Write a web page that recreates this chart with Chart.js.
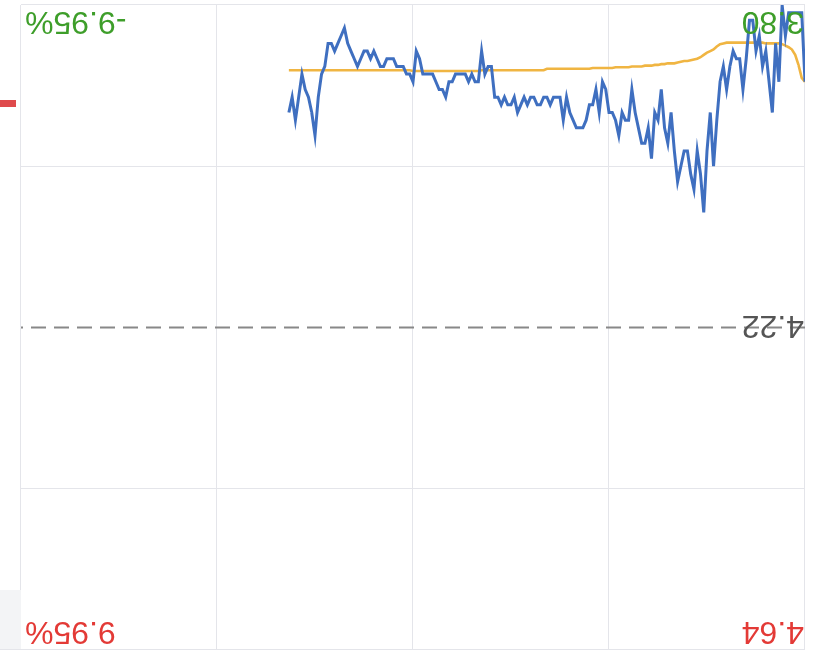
<!DOCTYPE html>
<html>
<head>
<meta charset="utf-8">
<script src="https://cdn.jsdelivr.net/npm/chart.js@4.4.1/dist/chart.umd.min.js"></script>
<style>
  html, body { margin: 0; padding: 0; background: #fff; }
  #wrap { position: relative; width: 822px; height: 663px; transform: rotate(180deg); overflow: hidden; }
  #grafico { position: absolute; left: 0; top: 0; }
  .tira { position: absolute; }
</style>
</head>
<body>
<div id="wrap">
  <canvas id="grafico" width="822" height="663"></canvas>
  <div class="tira" style="left:801px; top:13px; width:21px; height:60px; background:#f3f4f6;"></div>
  <div class="tira" style="left:801px; top:13px; width:21px; height:1px; background:#e4e5ea;"></div>
  <div class="tira" style="left:806px; top:556px; width:16px; height:7px; background:#df4a4c;"></div>
</div>
<script>
// precio por minuto (indice 0 = 09:30)
var precio = [
    3.90, 3.81, 3.81, 3.81, 3.81, 3.81, 3.84, 3.80, 3.90, 3.85,
    3.94, 3.90, 3.86, 3.88, 3.84, 3.86, 3.82, 3.82, 3.87, 3.91,
    3.87, 3.87, 3.86, 3.88, 3.91, 3.88, 3.90, 3.95, 4.01, 3.94,
    3.99, 4.07, 4.02, 3.99, 4.04, 4.02, 3.99, 3.99, 4.01, 4.03,
    3.99, 3.94, 3.98, 3.96, 3.91, 3.95, 3.94, 4.00, 3.96, 3.98,
    3.98, 3.96, 3.94, 3.91, 3.95, 3.95, 3.94, 3.97, 3.95, 3.94,
    3.94, 3.91, 3.90, 3.94, 3.91, 3.93, 3.93, 3.95, 3.96, 3.96,
    3.96, 3.95, 3.94, 3.92, 3.95, 3.92, 3.92, 3.92, 3.93, 3.92,
    3.92, 3.93, 3.93, 3.92, 3.92, 3.93, 3.92, 3.93, 3.94, 3.92,
    3.93, 3.93, 3.92, 3.93, 3.92, 3.92, 3.88, 3.88, 3.89, 3.86,
    3.90, 3.90, 3.89, 3.90, 3.89, 3.89, 3.89, 3.89, 3.90, 3.90,
    3.92, 3.91, 3.91, 3.90, 3.89, 3.89, 3.89, 3.89, 3.87, 3.86,
    3.90, 3.89, 3.89, 3.88, 3.88, 3.88, 3.87, 3.87, 3.87, 3.88,
    3.88, 3.87, 3.86, 3.87, 3.86, 3.86, 3.87, 3.88, 3.87, 3.86,
    3.85, 3.83, 3.84, 3.85, 3.86, 3.85, 3.85, 3.88, 3.89, 3.92,
    3.97, 3.94, 3.92, 3.91, 3.89, 3.92, 3.95, 3.92, 3.94
];
// precio medio
var promedio = [
    3.900, 3.895, 3.878, 3.865, 3.858, 3.855, 3.853, 3.851, 3.850, 3.850,
    3.850, 3.850, 3.850, 3.849, 3.849, 3.849, 3.849, 3.849, 3.849, 3.849,
    3.849, 3.849, 3.849, 3.849, 3.849, 3.850, 3.851, 3.854, 3.858, 3.860,
    3.862, 3.865, 3.868, 3.870, 3.871, 3.872, 3.873, 3.873, 3.874, 3.875,
    3.876, 3.876, 3.876, 3.877, 3.877, 3.878, 3.878, 3.879, 3.879, 3.879,
    3.880, 3.880, 3.880, 3.880, 3.881, 3.881, 3.881, 3.881, 3.881, 3.882,
    3.882, 3.882, 3.882, 3.882, 3.882, 3.882, 3.883, 3.883, 3.883, 3.883,
    3.883, 3.883, 3.883, 3.883, 3.883, 3.883, 3.883, 3.883, 3.883, 3.883,
    3.885, 3.885, 3.885, 3.885, 3.885, 3.885, 3.885, 3.885, 3.885, 3.885,
    3.885, 3.885, 3.885, 3.885, 3.885, 3.885, 3.885, 3.885, 3.885, 3.885,
    3.886, 3.886, 3.886, 3.886, 3.886, 3.886, 3.886, 3.886, 3.886, 3.886,
    3.886, 3.886, 3.886, 3.886, 3.886, 3.886, 3.886, 3.886, 3.886, 3.886,
    3.886, 3.885, 3.885, 3.885, 3.885, 3.885, 3.885, 3.885, 3.885, 3.885,
    3.885, 3.885, 3.885, 3.885, 3.885, 3.885, 3.885, 3.885, 3.885, 3.885,
    3.885, 3.885, 3.885, 3.885, 3.885, 3.885, 3.885, 3.885, 3.885, 3.885,
    3.885, 3.885, 3.885, 3.885, 3.885, 3.885, 3.885, 3.885, 3.885
];
var cierreAnterior = 4.22;
var ticksY = [3.80, 4.01, 4.22, 4.43, 4.64];
var ticksX = [0, 60, 120, 180, 240];
var etiquetas = {
    maximo: '4.64', subida: '9.95%',
    medio: '4.22',
    minimo: '3.80', bajada: '-9.95%'
};

var colorRejilla = '#e4e5ea';

function puntos(datos) {
    return datos.map(function (v, i) { return { x: i, y: v }; });
}

var textos = {
    id: 'textos',
    afterDraw: function (chart) {
        var ctx = chart.ctx;
        var area = chart.chartArea;
        var y = chart.scales.y;
        ctx.save();
        ctx.font = "32px 'Liberation Sans', Arial, sans-serif";
        ctx.textBaseline = 'alphabetic';
        ctx.fillStyle = '#e33a36';
        ctx.textAlign = 'left';
        ctx.fillText(etiquetas.maximo, area.left + 1, y.getPixelForValue(ticksY[4]) + 28);
        ctx.textAlign = 'right';
        ctx.fillText(etiquetas.subida, area.right - 4, y.getPixelForValue(ticksY[4]) + 28);
        ctx.fillStyle = '#555555';
        ctx.textAlign = 'left';
        ctx.fillText(etiquetas.medio, area.left + 1, y.getPixelForValue(cierreAnterior) + 11);
        ctx.fillStyle = '#3e9e2a';
        ctx.fillText(etiquetas.minimo, area.left + 1, y.getPixelForValue(ticksY[0]) - 7);
        ctx.textAlign = 'right';
        ctx.fillText(etiquetas.bajada, area.right - 4, y.getPixelForValue(ticksY[0]) - 7);
        ctx.restore();
    }
};

var ctx = document.getElementById('grafico').getContext('2d');
var grafico = new Chart(ctx, {
    type: 'line',
    data: {
        datasets: [{
            label: 'precio',
            data: puntos(precio),
            borderColor: '#3f6fc0',
            borderWidth: 3,
            pointRadius: 0,
            tension: 0,
            order: 1
        }, {
            label: 'promedio',
            data: puntos(promedio),
            borderColor: '#f0b542',
            borderWidth: 2.6,
            pointRadius: 0,
            tension: 0,
            order: 2
        }, {
            label: 'cierre',
            data: [{ x: ticksX[0], y: cierreAnterior }, { x: ticksX[4], y: cierreAnterior }],
            borderColor: '#888888',
            borderWidth: 2,
            borderDash: [15, 8],
            pointRadius: 0,
            order: 3
        }]
    },
    options: {
        responsive: false,
        animation: false,
        devicePixelRatio: 1,
        layout: { padding: { left: 17, right: 21, top: 13, bottom: 5 } },
        plugins: { legend: { display: false }, tooltip: { enabled: false } },
        scales: {
            x: {
                type: 'linear',
                min: ticksX[0],
                max: ticksX[4],
                afterBuildTicks: function (scale) {
                    scale.ticks = ticksX.map(function (v) { return { value: v }; });
                },
                ticks: { display: false },
                grid: { color: colorRejilla, lineWidth: 1, drawTicks: false },
                border: { display: false }
            },
            y: {
                min: ticksY[0],
                max: ticksY[4],
                afterBuildTicks: function (scale) {
                    scale.ticks = ticksY.map(function (v) { return { value: v }; });
                },
                ticks: { display: false },
                grid: {
                    lineWidth: 1,
                    drawTicks: false,
                    color: function (c) {
                        if (c.tick && Math.abs(c.tick.value - cierreAnterior) < 1e-6) return 'rgba(0,0,0,0)';
                        return colorRejilla;
                    }
                },
                border: { display: false }
            }
        }
    },
    plugins: [textos]
});
</script>
</body>
</html>
